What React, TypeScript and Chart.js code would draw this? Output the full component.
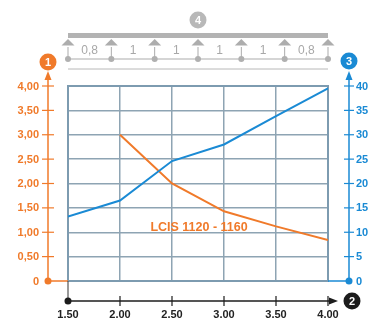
import React, { useEffect, useRef } from 'react';
import { Chart, registerables } from 'chart.js';

Chart.register(...registerables);

const FONT = "'Liberation Sans', Arial, Helvetica, sans-serif";
const ORANGE = '#f07a2a';
const BLUE = '#1a8ad4';
const GREY = '#ababab';
const GRID = '#8ea4b3';
const FRAME = '#7d9bb0';
const BLACK = '#1c1c1c';

const xTickValues = [1.5, 2, 2.5, 3, 3.5, 4];
const xTickLabels = ['1.50', '2.00', '2.50', '3.00', '3.50', '4.00'];
const leftTickValues = [0, 0.5, 1, 1.5, 2, 2.5, 3, 3.5, 4];
const leftTickLabels = ['0', '0,50', '1,00', '1,50', '2,00', '2,50', '3,00', '3,50', '4,00'];
const rightTickValues = [0, 5, 10, 15, 20, 25, 30, 35, 40];
const rightTickLabels = ['0', '5', '10', '15', '20', '25', '30', '35', '40'];

const blueX = [1.5, 2, 2.5, 3, 3.5, 4];
const blueY = [13.2, 16.5, 24.6, 28.0, 33.8, 39.5];
const orangeX = [2, 2.5, 3, 3.5, 4];
const orangeY = [3.0, 2.0, 1.43, 1.12, 0.84];

const seriesLabel = 'LCIS 1120 - 1160';
const labelPos = [2.76, 1.1];
const spanLabels = ['0,8', '1', '1', '1', '1', '0,8'];
const badgeLabels = ['1', '2', '3', '4'];

function badge(ctx: CanvasRenderingContext2D, x: number, y: number, fill: string, text: string) {
  ctx.beginPath();
  ctx.arc(x, y, 8.5, 0, Math.PI * 2);
  ctx.fillStyle = fill;
  ctx.fill();
  ctx.fillStyle = '#ffffff';
  ctx.font = `bold 11px ${FONT}`;
  ctx.textAlign = 'center';
  ctx.textBaseline = 'middle';
  ctx.fillText(text, x, y + 0.5);
}

function dot(ctx: CanvasRenderingContext2D, x: number, y: number, r: number, fill: string) {
  ctx.beginPath();
  ctx.arc(x, y, r, 0, Math.PI * 2);
  ctx.fillStyle = fill;
  ctx.fill();
}

function line(ctx: CanvasRenderingContext2D, x1: number, y1: number, x2: number, y2: number, color: string, w: number) {
  ctx.beginPath();
  ctx.moveTo(x1, y1);
  ctx.lineTo(x2, y2);
  ctx.strokeStyle = color;
  ctx.lineWidth = w;
  ctx.stroke();
}

function tri(ctx: CanvasRenderingContext2D, pts: number[][], fill: string) {
  ctx.beginPath();
  ctx.moveTo(pts[0][0], pts[0][1]);
  ctx.lineTo(pts[1][0], pts[1][1]);
  ctx.lineTo(pts[2][0], pts[2][1]);
  ctx.closePath();
  ctx.fillStyle = fill;
  ctx.fill();
}

const decor = {
  id: 'decor',
  beforeDatasetsDraw(chart: any) {
    const ctx = chart.ctx as CanvasRenderingContext2D;
    const { left, right, top, bottom } = chart.chartArea;
    ctx.save();
    ctx.strokeStyle = FRAME;
    ctx.lineWidth = 2;
    ctx.strokeRect(left, top, right - left, bottom - top);
    ctx.restore();
  },
  afterDraw(chart: any) {
    const ctx = chart.ctx as CanvasRenderingContext2D;
    const { left, right, top, bottom } = chart.chartArea;
    const xs = chart.scales.x;
    const yl = chart.scales.y;
    const yr = chart.scales.y1;
    ctx.save();

    // Left axis (orange)
    const lx = left - 20;
    const y0 = yl.getPixelForValue(0);
    line(ctx, lx, y0, lx, top - 10, ORANGE, 1.5);
    tri(ctx, [[lx, top - 15], [lx - 3.5, top - 6], [lx + 3.5, top - 6]], ORANGE);
    line(ctx, lx, y0, left, y0, ORANGE, 1.5);
    dot(ctx, lx, y0, 3.5, ORANGE);
    ctx.font = `bold 11px ${FONT}`;
    ctx.fillStyle = ORANGE;
    ctx.textAlign = 'right';
    ctx.textBaseline = 'middle';
    leftTickValues.forEach((v, i) => {
      const py = yl.getPixelForValue(v);
      if (v !== 0) line(ctx, lx - 6, py, lx + 6, py, ORANGE, 1.2);
      ctx.fillStyle = ORANGE;
      ctx.fillText(leftTickLabels[i], lx - 9, py + 0.5);
    });
    badge(ctx, lx, top - 24, ORANGE, badgeLabels[0]);

    // Right axis (blue)
    const rx = right + 21;
    const r0 = yr.getPixelForValue(0);
    line(ctx, rx, r0, rx, top - 10, BLUE, 1.5);
    tri(ctx, [[rx, top - 15], [rx - 3.5, top - 6], [rx + 3.5, top - 6]], BLUE);
    line(ctx, right, r0, rx, r0, BLUE, 1.5);
    dot(ctx, rx, r0, 3.5, BLUE);
    ctx.font = `bold 11px ${FONT}`;
    ctx.textAlign = 'left';
    ctx.textBaseline = 'middle';
    rightTickValues.forEach((v, i) => {
      const py = yr.getPixelForValue(v);
      if (v !== 0) line(ctx, rx - 5, py, rx + 5, py, BLUE, 1.2);
      ctx.fillStyle = BLUE;
      ctx.fillText(rightTickLabels[i], rx + 7, py + 0.5);
    });
    badge(ctx, rx, top - 25, BLUE, badgeLabels[2]);

    // Bottom axis (black)
    const by = bottom + 20;
    line(ctx, left, bottom, left, by, '#555555', 1.2);
    line(ctx, left, by, right + 5, by, BLACK, 1.3);
    tri(ctx, [[right + 10, by], [right + 1, by - 3.5], [right + 1, by + 3.5]], BLACK);
    dot(ctx, left, by, 3.5, BLACK);
    ctx.font = `bold 11px ${FONT}`;
    ctx.textAlign = 'center';
    ctx.textBaseline = 'middle';
    xTickValues.forEach((v, i) => {
      const px = xs.getPixelForValue(v);
      if (i > 0) line(ctx, px, by - 5, px, by + 5, BLACK, 1.2);
      ctx.fillStyle = '#222222';
      ctx.fillText(xTickLabels[i], px, by + 14);
    });
    badge(ctx, right + 24, by, BLACK, badgeLabels[1]);

    // Beam diagram (grey)
    const n = spanLabels.length;
    const step = (right - left) / n;
    ctx.fillStyle = '#b3b3b3';
    ctx.fillRect(left, top - 53, right - left, 5);
    badge(ctx, (left + right) / 2, top - 66, '#b8b8b8', badgeLabels[3]);
    line(ctx, left, top - 27, right, top - 27, GREY, 1);
    line(ctx, left, top - 17, right, top - 17, '#b8b8b8', 1);
    for (let i = 0; i <= n; i++) {
      const px = left + i * step;
      tri(ctx, [[px, top - 47], [px - 6.5, top - 40.5], [px + 6.5, top - 40.5]], '#adadad');
      line(ctx, px, top - 39, px, top - 27, GREY, 1);
      dot(ctx, px, top - 27, 3, '#b0b0b0');
    }
    ctx.font = `12px ${FONT}`;
    ctx.fillStyle = '#a8a8a8';
    ctx.textAlign = 'center';
    ctx.textBaseline = 'middle';
    spanLabels.forEach((s, i) => {
      ctx.fillText(s, left + (i + 0.5) * step, top - 35);
    });

    // Series label
    ctx.font = `bold 12.5px ${FONT}`;
    ctx.fillStyle = ORANGE;
    ctx.textAlign = 'center';
    ctx.textBaseline = 'middle';
    ctx.fillText(seriesLabel, xs.getPixelForValue(labelPos[0]), yl.getPixelForValue(labelPos[1]));

    ctx.restore();
  },
};

export default function App() {
  const ref = useRef<HTMLCanvasElement | null>(null);
  useEffect(() => {
    if (!ref.current) return;
    const chart = new Chart(ref.current, {
      type: 'line',
      data: {
        datasets: [
          {
            label: 'blue',
            data: blueX.map((x, i) => ({ x, y: blueY[i] })),
            borderColor: BLUE,
            borderWidth: 2,
            pointRadius: 0,
            yAxisID: 'y1',
            tension: 0,
          },
          {
            label: seriesLabel,
            data: orangeX.map((x, i) => ({ x, y: orangeY[i] })),
            borderColor: ORANGE,
            borderWidth: 2,
            pointRadius: 0,
            yAxisID: 'y',
            tension: 0,
          },
        ],
      },
      options: {
        responsive: false,
        animation: false,
        devicePixelRatio: 1,
        layout: { padding: { left: 68, right: 41, top: 86, bottom: 39 } },
        plugins: { legend: { display: false }, tooltip: { enabled: false } },
        scales: {
          x: {
            type: 'linear',
            min: 1.5,
            max: 4,
            ticks: { display: false, stepSize: 0.5 },
            grid: { color: GRID, lineWidth: 1.5, drawTicks: false },
            border: { display: false },
          },
          y: {
            position: 'left',
            min: 0,
            max: 4,
            ticks: { display: false, stepSize: 0.5 },
            grid: { color: GRID, lineWidth: 1.5, drawTicks: false },
            border: { display: false },
          },
          y1: {
            position: 'right',
            min: 0,
            max: 40,
            display: false,
            ticks: { stepSize: 5 },
            grid: { display: false },
          },
        },
      },
      plugins: [decor],
    });
    return () => chart.destroy();
  }, []);
  return (
    <div style={{ position: 'fixed', left: 0, top: 0, width: 369, height: 320, background: '#ffffff' }}>
      <canvas ref={ref} width={369} height={320} style={{ width: 369, height: 320 }} />
    </div>
  );
}
